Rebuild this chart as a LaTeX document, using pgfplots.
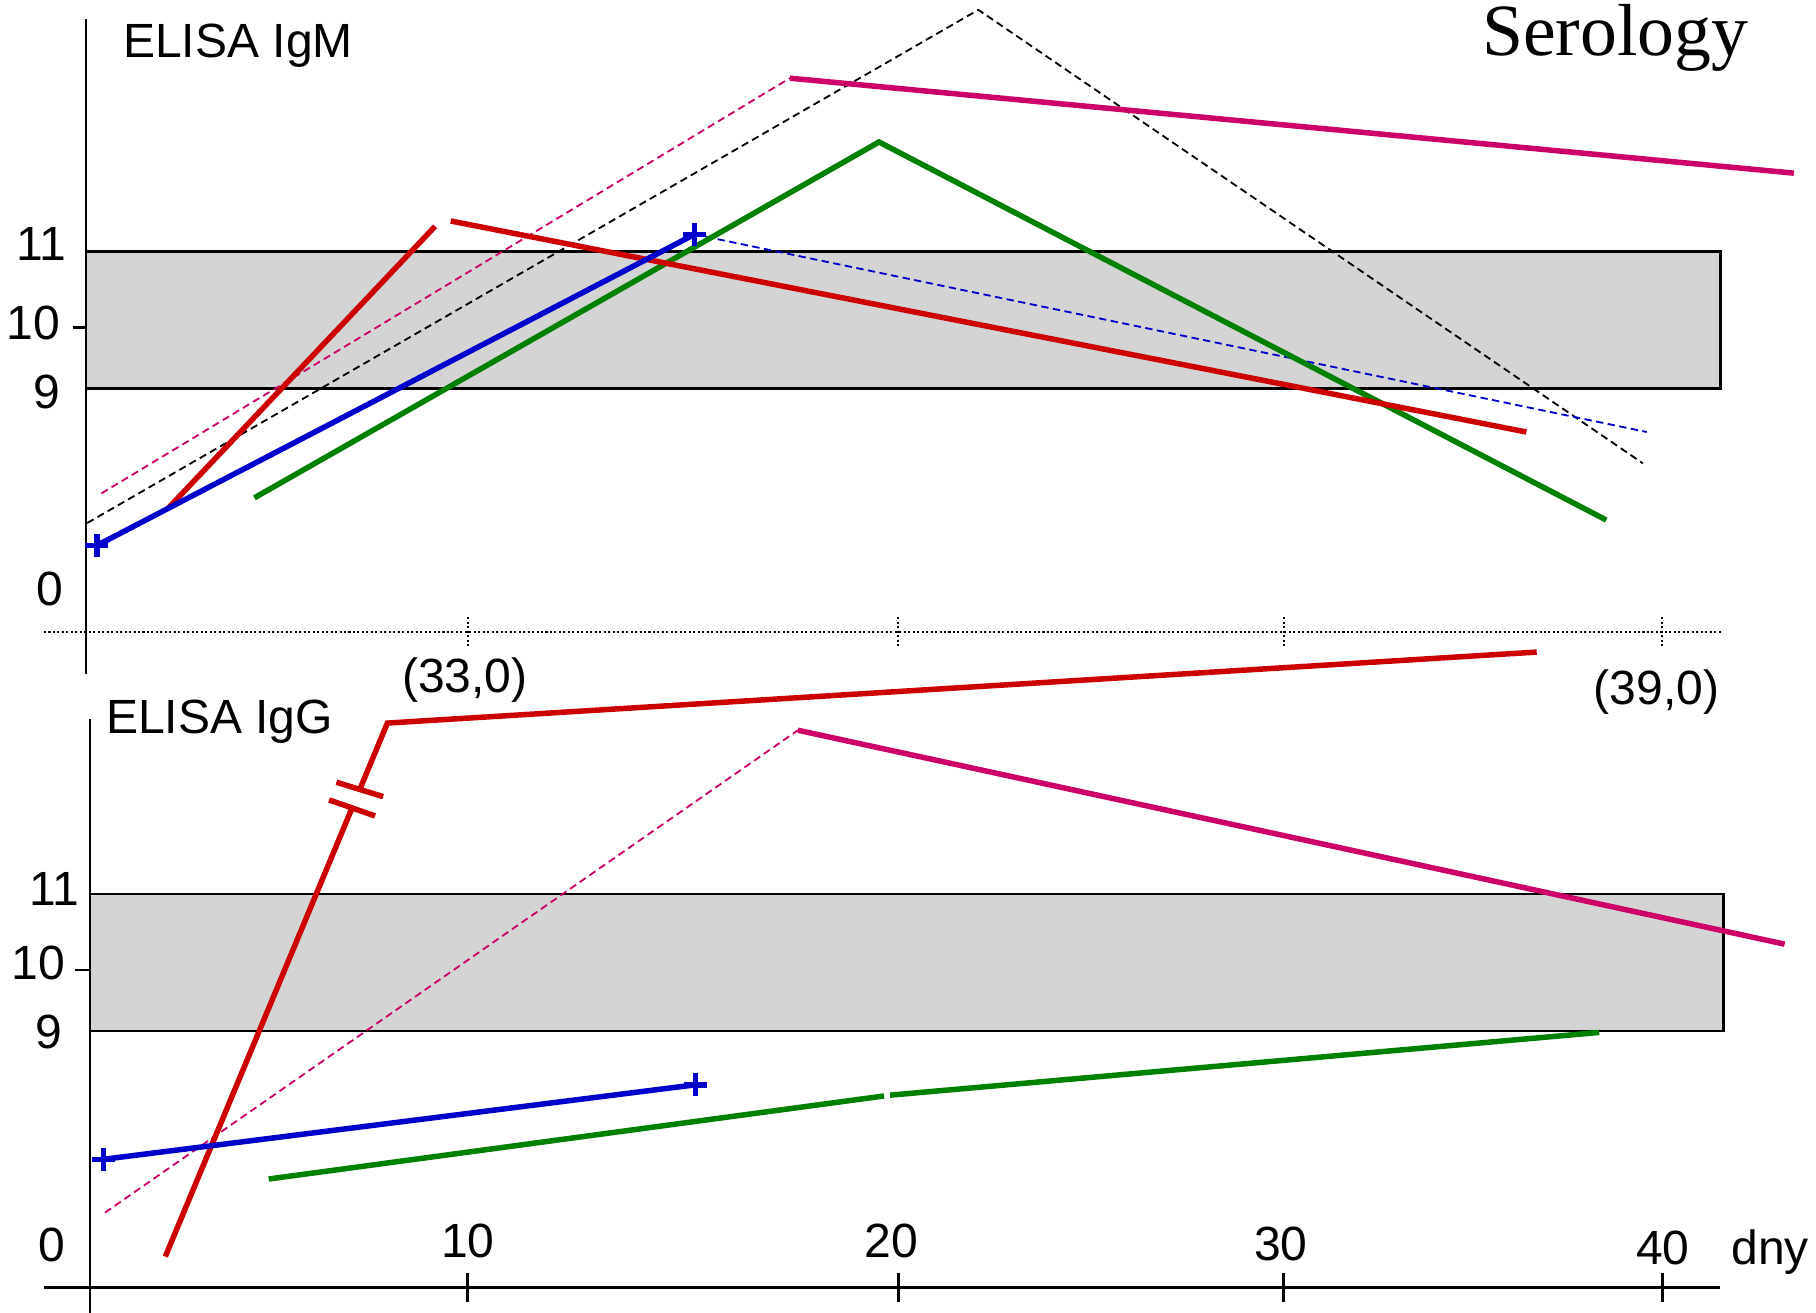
\documentclass[border=0pt]{standalone}
\usepackage{fontspec}
\setmainfont{Liberation Sans}
\newfontfamily\serifont{Liberation Serif}
\usepackage{pgfplots}
\pgfplotsset{compat=1.18}
\definecolor{cred}{RGB}{204,0,0}
\definecolor{cgreen}{RGB}{0,128,0}
\definecolor{cblue}{RGB}{0,0,204}
\definecolor{cmag}{RGB}{204,0,102}
\definecolor{bandgray}{RGB}{212,212,212}
\tikzset{
  thickline/.style={line width=1.35pt},
  thindash/.style={line width=0.45pt, dash pattern=on 1.8pt off 1.1pt},
  lab/.style={font=\fontsize{11.8}{14}\selectfont, inner sep=0pt},
  axline/.style={line width=0.6pt, black},
  dotline/.style={line width=0.5pt, black, dash pattern=on 0.5pt off 0.6pt},
}
\pgfplotsset{panel/.style={scale only axis, width=13.583cm, height=1.18cm,
  xmin=0, xmax=40, ymin=9, ymax=11, hide axis, clip=false, anchor=south west}}
\begin{document}
\begin{tikzpicture}
\useasboundingbox (0,0) rectangle (15.68,11.33);
\clip (0,0) rectangle (15.68,11.33);
% ---------------- IgM panel ----------------
\begin{axis}[panel, at={(0.77cm,7.977cm)}]
\addplot[fill=bandgray, draw=black, line width=0.6pt] coordinates {(-0.074,9) (41.48,9) (41.48,11) (-0.074,11)} -- cycle;
\draw[axline] (axis cs:-0.074,14.40) -- (axis cs:-0.074,4.819);
\draw[dotline] (axis cs:-1.149,5.437) -- (axis cs:41.52,5.437);
\pgfplotsinvokeforeach{9.623,20.574,30.371,40}{
  \draw[dotline] (axis cs:#1,5.649) -- (axis cs:#1,5.225);
}
\draw[axline] (axis cs:-0.418,9.893) -- (axis cs:-0.074,9.893);
\node[lab, anchor=base] at (axis cs:-1.222,10.870) {11};
\node[lab, anchor=base] at (axis cs:-1.413,9.717) {10};
\node[lab, anchor=base] at (axis cs:-1.075,8.705) {9};
\node[lab, anchor=base] at (axis cs:-1.0,5.819) {0};
\node[lab, anchor=base west] at (axis cs:0.845,13.847) {ELISA IgM};
\node[lab, anchor=base] at (axis cs:9.555,4.556) {(33,0)};
\node[lab, anchor=base] at (axis cs:39.85,4.380) {(39,0)};
\node[font=\serifont\fontsize{18.1}{20}\selectfont, inner sep=0pt, anchor=base west] at (axis cs:35.40,13.87) {Serology};
% data
\addplot[black, thindash] coordinates {(-0.05,7.029) (22.609,14.539) (39.505,7.903)};
\addplot[cmag, thindash] coordinates {(0.312,7.463) (17.815,13.539)};
\addplot[cblue, thindash] coordinates {(15.392,11.253) (39.606,8.361)};
\addplot[cmag, thickline] coordinates {(17.815,13.539) (43.345,12.149)};
\addplot[cgreen, thickline] coordinates {(4.202,7.398) (20.082,12.605) (38.575,7.073)};
\addplot[cred, thickline] coordinates {(1.994,7.236) (8.796,11.371)};
\addplot[cred, thickline] coordinates {(9.193,11.449) (36.543,8.361)};
\addplot[cblue, thickline, mark=+, mark size=2.8pt, mark options={solid}] coordinates {(0.194,6.700) (15.392,11.253)};
\end{axis}
% ---------------- IgG panel ----------------
\begin{axis}[panel, at={(0.77cm,2.43cm)}]
\addplot[fill=bandgray, draw=black, line width=0.6pt] coordinates {(0.024,9) (41.56,9) (41.56,11) (0.024,11)} -- cycle;
\draw[axline] (axis cs:0.024,13.566) -- (axis cs:0.024,4.5);
\draw[axline] (axis cs:-1.149,5.244) -- (axis cs:41.47,5.244);
\pgfplotsinvokeforeach{9.623,20.574,30.371,40}{
  \draw[axline] (axis cs:#1,5.461) -- (axis cs:#1,5.031);
}
\draw[axline] (axis cs:-0.371,9.89) -- (axis cs:0.024,9.89);
\node[lab, anchor=base] at (axis cs:-0.883,10.836) {11};
\node[lab, anchor=base] at (axis cs:-1.296,9.753) {10};
\node[lab, anchor=base] at (axis cs:-1.022,8.734) {9};
\node[lab, anchor=base] at (axis cs:-0.939,5.617) {0};
\node[lab, anchor=base] at (axis cs:9.63,5.676) {10};
\node[lab, anchor=base] at (axis cs:20.398,5.676) {20};
\node[lab, anchor=base] at (axis cs:30.30,5.645) {30};
\node[lab, anchor=base] at (axis cs:40.01,5.585) {40};
\node[lab, anchor=base] at (axis cs:42.74,5.585) {dny};
\node[lab, anchor=base west] at (axis cs:0.409,13.349) {ELISA IgG};
% data
\addplot[cmag, thindash] coordinates {(0.403,6.339) (18.021,13.398)};
\addplot[cmag, thickline] coordinates {(18.021,13.398) (43.11,10.268)};
\addplot[cgreen, thickline] coordinates {(4.564,6.831) (20.209,8.046)};
\addplot[cgreen, thickline] coordinates {(20.362,8.058) (38.396,8.976)};
\addplot[cred, thickline] coordinates {(1.935,5.695) (6.685,12.261)};
\addplot[cred, thickline] coordinates {(6.881,12.532) (7.583,13.503) (36.806,14.542)};
\addplot[cred, thickline] coordinates {(6.288,12.637) (7.474,12.427)};
\addplot[cred, thickline] coordinates {(6.100,12.378) (7.270,12.144)};
\addplot[cblue, thickline, mark=+, mark size=2.8pt, mark options={solid}] coordinates {(0.359,7.119) (15.421,8.210)};
\end{axis}
\end{tikzpicture}
\end{document}
